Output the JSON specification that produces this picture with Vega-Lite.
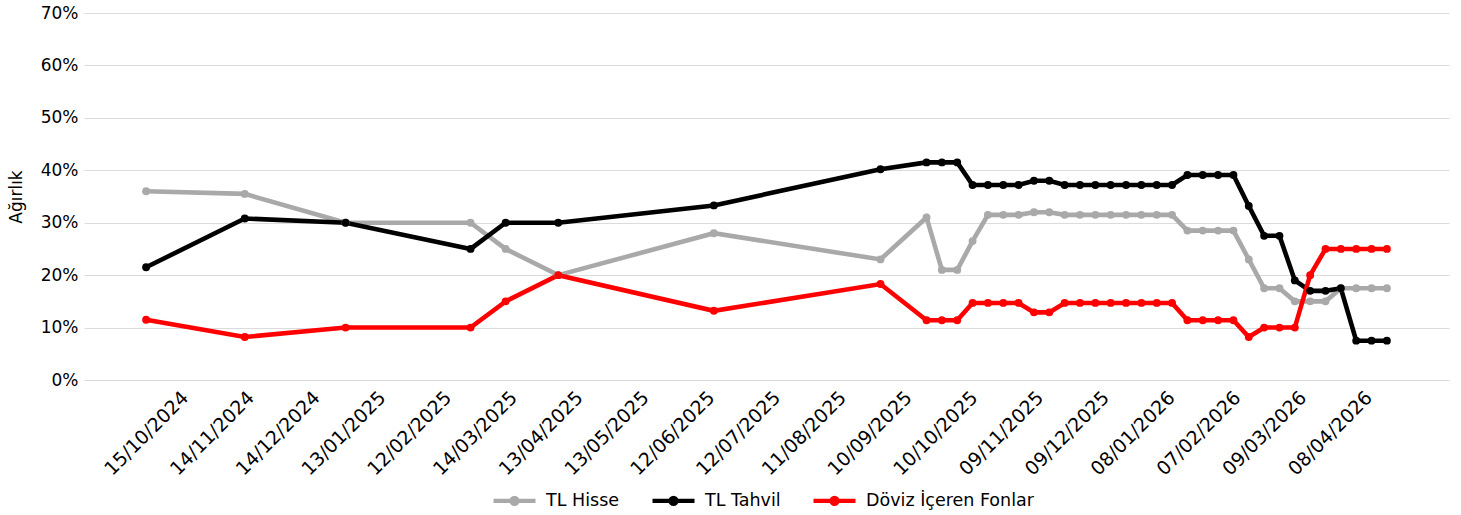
{
  "$schema": "https://vega.github.io/schema/vega-lite/v6.json",
  "width": 1365,
  "height": 367,
  "autosize": {"type": "none"},
  "padding": {"left": 84, "top": 13, "right": 12, "bottom": 135},
  "background": "white",
  "config": {"view": {"stroke": null}, "font": "DejaVu Sans"},
  "data": {
    "format": {"parse": {"tarih": "utc:'%Y-%m-%d'"}},
    "values": [
      {"tarih": "2024-10-15", "TL Hisse": 0.360, "TL Tahvil": 0.215, "Döviz İçeren Fonlar": 0.115},
      {"tarih": "2024-11-29", "TL Hisse": 0.355, "TL Tahvil": 0.308, "Döviz İçeren Fonlar": 0.082},
      {"tarih": "2025-01-14", "TL Hisse": 0.300, "TL Tahvil": 0.300, "Döviz İçeren Fonlar": 0.100},
      {"tarih": "2025-03-12", "TL Hisse": 0.300, "TL Tahvil": 0.250, "Döviz İçeren Fonlar": 0.100},
      {"tarih": "2025-03-28", "TL Hisse": 0.250, "TL Tahvil": 0.300, "Döviz İçeren Fonlar": 0.150},
      {"tarih": "2025-04-21", "TL Hisse": 0.200, "TL Tahvil": 0.300, "Döviz İçeren Fonlar": 0.200},
      {"tarih": "2025-07-01", "TL Hisse": 0.280, "TL Tahvil": 0.333, "Döviz İçeren Fonlar": 0.132},
      {"tarih": "2025-09-15", "TL Hisse": 0.230, "TL Tahvil": 0.402, "Döviz İçeren Fonlar": 0.183},
      {"tarih": "2025-10-06", "TL Hisse": 0.310, "TL Tahvil": 0.415, "Döviz İçeren Fonlar": 0.114},
      {"tarih": "2025-10-13", "TL Hisse": 0.210, "TL Tahvil": 0.415, "Döviz İçeren Fonlar": 0.114},
      {"tarih": "2025-10-20", "TL Hisse": 0.210, "TL Tahvil": 0.415, "Döviz İçeren Fonlar": 0.114},
      {"tarih": "2025-10-27", "TL Hisse": 0.265, "TL Tahvil": 0.372, "Döviz İçeren Fonlar": 0.147},
      {"tarih": "2025-11-03", "TL Hisse": 0.315, "TL Tahvil": 0.372, "Döviz İçeren Fonlar": 0.147},
      {"tarih": "2025-11-10", "TL Hisse": 0.315, "TL Tahvil": 0.372, "Döviz İçeren Fonlar": 0.147},
      {"tarih": "2025-11-17", "TL Hisse": 0.315, "TL Tahvil": 0.372, "Döviz İçeren Fonlar": 0.147},
      {"tarih": "2025-11-24", "TL Hisse": 0.320, "TL Tahvil": 0.380, "Döviz İçeren Fonlar": 0.129},
      {"tarih": "2025-12-01", "TL Hisse": 0.320, "TL Tahvil": 0.380, "Döviz İçeren Fonlar": 0.129},
      {"tarih": "2025-12-08", "TL Hisse": 0.315, "TL Tahvil": 0.372, "Döviz İçeren Fonlar": 0.147},
      {"tarih": "2025-12-15", "TL Hisse": 0.315, "TL Tahvil": 0.372, "Döviz İçeren Fonlar": 0.147},
      {"tarih": "2025-12-22", "TL Hisse": 0.315, "TL Tahvil": 0.372, "Döviz İçeren Fonlar": 0.147},
      {"tarih": "2025-12-29", "TL Hisse": 0.315, "TL Tahvil": 0.372, "Döviz İçeren Fonlar": 0.147},
      {"tarih": "2026-01-05", "TL Hisse": 0.315, "TL Tahvil": 0.372, "Döviz İçeren Fonlar": 0.147},
      {"tarih": "2026-01-12", "TL Hisse": 0.315, "TL Tahvil": 0.372, "Döviz İçeren Fonlar": 0.147},
      {"tarih": "2026-01-19", "TL Hisse": 0.315, "TL Tahvil": 0.372, "Döviz İçeren Fonlar": 0.147},
      {"tarih": "2026-01-26", "TL Hisse": 0.315, "TL Tahvil": 0.372, "Döviz İçeren Fonlar": 0.147},
      {"tarih": "2026-02-02", "TL Hisse": 0.285, "TL Tahvil": 0.391, "Döviz İçeren Fonlar": 0.114},
      {"tarih": "2026-02-09", "TL Hisse": 0.285, "TL Tahvil": 0.391, "Döviz İçeren Fonlar": 0.114},
      {"tarih": "2026-02-16", "TL Hisse": 0.285, "TL Tahvil": 0.391, "Döviz İçeren Fonlar": 0.114},
      {"tarih": "2026-02-23", "TL Hisse": 0.285, "TL Tahvil": 0.391, "Döviz İçeren Fonlar": 0.114},
      {"tarih": "2026-03-02", "TL Hisse": 0.230, "TL Tahvil": 0.332, "Döviz İçeren Fonlar": 0.082},
      {"tarih": "2026-03-09", "TL Hisse": 0.175, "TL Tahvil": 0.275, "Döviz İçeren Fonlar": 0.100},
      {"tarih": "2026-03-16", "TL Hisse": 0.175, "TL Tahvil": 0.275, "Döviz İçeren Fonlar": 0.100},
      {"tarih": "2026-03-23", "TL Hisse": 0.150, "TL Tahvil": 0.190, "Döviz İçeren Fonlar": 0.100},
      {"tarih": "2026-03-30", "TL Hisse": 0.150, "TL Tahvil": 0.170, "Döviz İçeren Fonlar": 0.200},
      {"tarih": "2026-04-06", "TL Hisse": 0.150, "TL Tahvil": 0.170, "Döviz İçeren Fonlar": 0.250},
      {"tarih": "2026-04-13", "TL Hisse": 0.175, "TL Tahvil": 0.175, "Döviz İçeren Fonlar": 0.250},
      {"tarih": "2026-04-20", "TL Hisse": 0.175, "TL Tahvil": 0.075, "Döviz İçeren Fonlar": 0.250},
      {"tarih": "2026-04-27", "TL Hisse": 0.175, "TL Tahvil": 0.075, "Döviz İçeren Fonlar": 0.250},
      {"tarih": "2026-05-04", "TL Hisse": 0.175, "TL Tahvil": 0.075, "Döviz İçeren Fonlar": 0.250}
    ]
  },
  "transform": [
    {"fold": ["TL Hisse", "TL Tahvil", "Döviz İçeren Fonlar"], "as": ["seri", "deger"]}
  ],
  "mark": {"type": "line", "strokeWidth": 4.6, "point": {"filled": true, "size": 62}},
  "encoding": {
    "x": {
      "field": "tarih",
      "type": "temporal",
      "scale": {
        "type": "utc",
        "domain": [
          {"year": 2024, "month": 9, "date": 16, "hours": 16, "utc": true},
          {"year": 2026, "month": 6, "date": 1, "hours": 8, "utc": true}
        ]
      },
      "axis": {
        "title": null,
        "values": [
          {"year": 2024, "month": 10, "date": 15, "utc": true},
          {"year": 2024, "month": 11, "date": 14, "utc": true},
          {"year": 2024, "month": 12, "date": 14, "utc": true},
          {"year": 2025, "month": 1, "date": 13, "utc": true},
          {"year": 2025, "month": 2, "date": 12, "utc": true},
          {"year": 2025, "month": 3, "date": 14, "utc": true},
          {"year": 2025, "month": 4, "date": 13, "utc": true},
          {"year": 2025, "month": 5, "date": 13, "utc": true},
          {"year": 2025, "month": 6, "date": 12, "utc": true},
          {"year": 2025, "month": 7, "date": 12, "utc": true},
          {"year": 2025, "month": 8, "date": 11, "utc": true},
          {"year": 2025, "month": 9, "date": 10, "utc": true},
          {"year": 2025, "month": 10, "date": 10, "utc": true},
          {"year": 2025, "month": 11, "date": 9, "utc": true},
          {"year": 2025, "month": 12, "date": 9, "utc": true},
          {"year": 2026, "month": 1, "date": 8, "utc": true},
          {"year": 2026, "month": 2, "date": 7, "utc": true},
          {"year": 2026, "month": 3, "date": 9, "utc": true},
          {"year": 2026, "month": 4, "date": 8, "utc": true}
        ],
        "labelExpr": "utcFormat(datum.value, '%d/%m/%Y')",
        "labelAngle": -45,
        "labelAlign": "center",
        "labelBaseline": "middle",
        "labelPadding": 53,
        "labelFontSize": 19,
        "labelFont": "DejaVu Sans",
        "labelColor": "black",
        "labelOverlap": false,
        "labelBound": false,
        "labelFlush": false,
        "grid": false,
        "domain": false,
        "ticks": false,
        "tickSize": 0
      }
    },
    "y": {
      "field": "deger",
      "type": "quantitative",
      "scale": {"domain": [0, 0.7], "nice": false, "zero": true},
      "axis": {
        "title": "Ağırlık",
        "titleFontSize": 17,
        "titleFont": "DejaVu Sans",
        "titleFontWeight": "normal",
        "titleColor": "black",
        "titlePadding": 15,
        "values": [0, 0.1, 0.2, 0.3, 0.4, 0.5, 0.6, 0.7],
        "format": ".0%",
        "labelFontSize": 17,
        "labelFont": "DejaVu Sans",
        "labelColor": "black",
        "labelPadding": 6,
        "grid": true,
        "gridColor": "#dcdcdc",
        "gridWidth": 1,
        "domain": false,
        "ticks": false,
        "tickSize": 0
      }
    },
    "color": {
      "field": "seri",
      "type": "nominal",
      "scale": {
        "domain": ["TL Hisse", "TL Tahvil", "Döviz İçeren Fonlar"],
        "range": ["#a9a9a9", "#000000", "#ff0000"]
      },
      "legend": {
        "title": null,
        "orient": "none",
        "legendX": 407,
        "legendY": 464,
        "direction": "horizontal",
        "padding": 0,
        "symbolType": "M-1,0L1,0M0.14,0A0.14,0.14,0,1,1,-0.14,0A0.14,0.14,0,1,1,0.14,0Z",
        "symbolSize": 1764,
        "symbolStrokeWidth": 4.4,
        "symbolOpacity": 1,
        "labelFontSize": 17.5,
        "labelFont": "DejaVu Sans",
        "labelColor": "black",
        "labelOffset": 8,
        "labelLimit": 500,
        "columnPadding": 23,
        "encode": {
          "symbols": {
            "update": {
              "fill": {"scale": "color", "field": "value"},
              "stroke": {"scale": "color", "field": "value"}
            }
          }
        }
      }
    }
  }
}
